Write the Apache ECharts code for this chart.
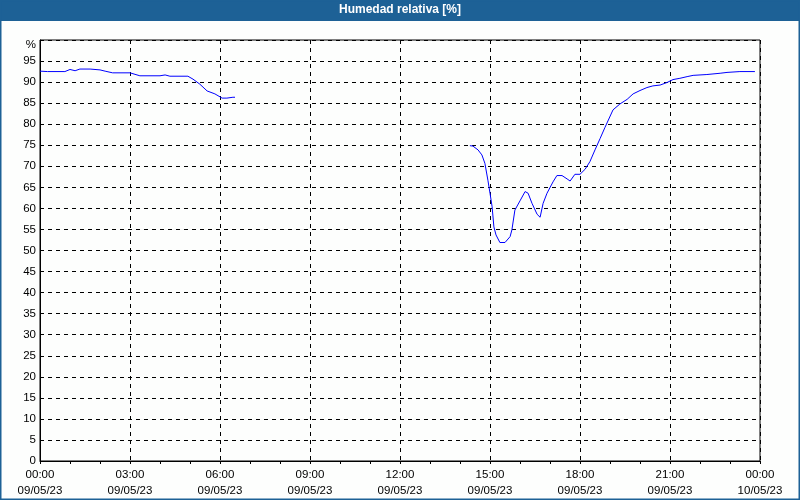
<!DOCTYPE html>
<html><head><meta charset="utf-8">
<script src="https://cdn.jsdelivr.net/npm/echarts@6/dist/echarts.min.js"></script>
<style>html,body{margin:0;padding:0;background:#fff}#c{width:800px;height:500px}</style>
</head><body><div id="c"></div>
<script>
const titleText = 'Humedad relativa [%]';
// hours since 09/05/23 00:00
const seg1Hours = [0,0.25,0.5,0.83,1.0,1.17,1.33,1.67,2.0,2.17,2.42,3.0,3.33,4.0,4.17,4.33,4.93,5.1,5.33,5.57,5.83,6.07,6.23,6.43,6.5];
const seg1Values = [92.6,92.5,92.5,92.5,93.0,92.7,93.1,93.1,92.9,92.6,92.2,92.2,91.5,91.5,91.7,91.4,91.4,90.7,89.5,87.9,87.2,86.2,86.2,86.4,86.4];
const seg2Hours = [14.33,14.43,14.6,14.73,14.83,14.93,15.0,15.07,15.13,15.2,15.33,15.5,15.67,15.73,15.83,16.0,16.17,16.27,16.4,16.57,16.67,16.77,16.9,17.1,17.23,17.4,17.57,17.67,17.83,18.0,18.17,18.33,18.5,18.67,18.83,19.1,19.33,19.57,19.77,20.0,20.23,20.43,20.67,20.9,21.1,21.33,21.57,21.77,22.23,22.67,22.9,23.33,23.83];
const seg2Values = [74.9,74.8,73.9,72.7,70.7,66.7,63.6,60.4,55.6,53.7,51.9,51.9,53.3,54.9,59.6,61.8,64.0,63.6,61.2,58.6,57.9,61.2,63.6,66.3,67.8,67.8,67.0,66.5,68.1,68.1,69.3,71.1,73.9,76.6,79.2,83.4,84.8,85.9,87.2,88.0,88.7,89.1,89.3,89.9,90.6,90.9,91.3,91.6,91.8,92.1,92.3,92.5,92.5];
const xTickHours = [0,3,6,9,12,15,18,21,24];
const xTickTimes = ['00:00','03:00','06:00','09:00','12:00','15:00','18:00','21:00','00:00'];
const xTickDates = ['09/05/23','09/05/23','09/05/23','09/05/23','09/05/23','09/05/23','09/05/23','09/05/23','10/05/23'];

const data = [];
seg1Hours.forEach((h,i)=>data.push([h, seg1Values[i]]));
data.push([10, null]);
seg2Hours.forEach((h,i)=>data.push([h, seg2Values[i]]));

const font = 'Liberation Sans';
const chart = echarts.init(document.getElementById('c'), null, {renderer:'canvas'});
chart.setOption({
  backgroundColor: '#fdfefd',
  animation: false,
  graphic: [
    {type:'rect', shape:{x:0,y:0,width:800,height:21}, style:{fill:'#1d6196'}, z:10},
    {type:'rect', shape:{x:0.5,y:0.5,width:799,height:499}, style:{fill:'none', stroke:'#1d6196', lineWidth:2}, z:10},
    {type:'text', left:'center', top:4, style:{text:titleText, fill:'#ffffff', font:'bold 12px "Liberation Sans"'}, z:11}
  ],
  grid: {left:40, right:40, top:40, bottom:39, show:true, borderColor:'#000', borderWidth:1, backgroundColor:'transparent'},
  xAxis: {
    type:'value', min:0, max:24, interval:3,
    axisLine:{show:true, lineStyle:{color:'#000'}},
    axisTick:{show:true, length:3, lineStyle:{color:'#000'}},
    minorTick:{show:true, splitNumber:3, length:3, lineStyle:{color:'#000'}},
    splitLine:{show:true, lineStyle:{color:'#000', type:[4,4], width:1}},
    axisLabel:{
      margin:6, color:'#000', fontFamily:font, fontSize:11.5, lineHeight:16,
      formatter:function(v){const i = xTickHours.indexOf(v); return i<0 ? '' : xTickTimes[i] + '\n' + xTickDates[i];}
    }
  },
  yAxis: {
    type:'value', min:0, max:100, interval:5,
    axisLine:{show:true, lineStyle:{color:'#000'}},
    axisTick:{show:false},
    splitLine:{show:true, lineStyle:{color:'#000', type:[4,4], width:1}},
    axisLabel:{
      margin:4, color:'#000', fontFamily:font, fontSize:11.5,
      formatter:function(v){return v===100 ? '{p|%}' : String(v);},
      rich:{p:{fontFamily:font, fontSize:11.5, color:'#000', padding:[10,0,0,0]}}
    }
  },
  series: [{
    type:'line', data:data, showSymbol:false, connectNulls:false,
    lineStyle:{color:'#0000ff', width:1}, itemStyle:{color:'#0000ff'}
  }]
});
</script></body></html>
